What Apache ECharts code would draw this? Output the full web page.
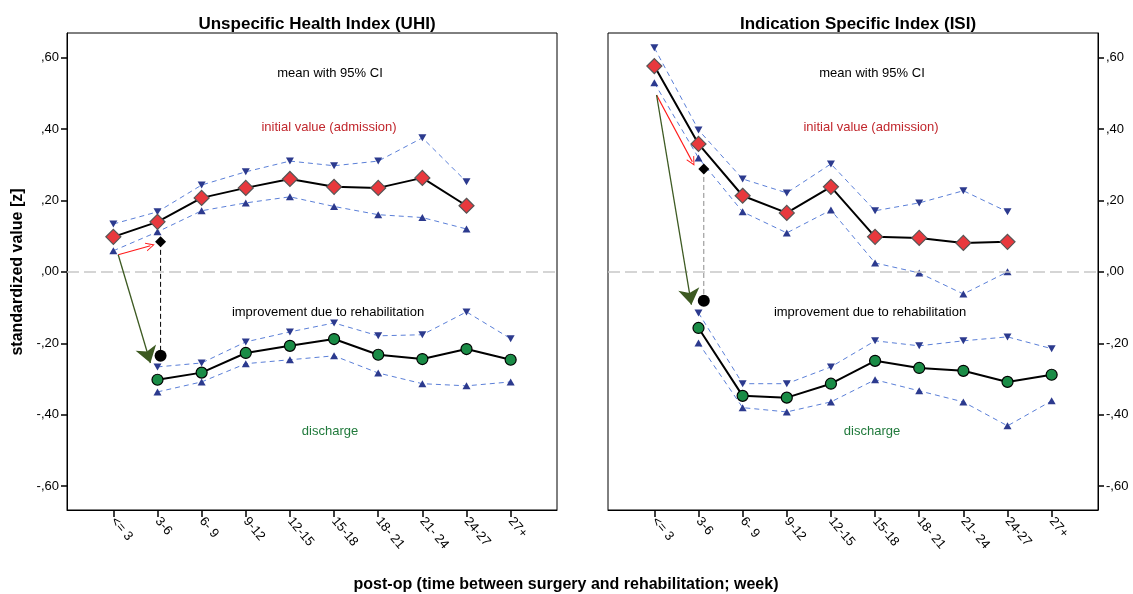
<!DOCTYPE html>
<html>
<head>
<meta charset="utf-8">
<script src="https://cdn.jsdelivr.net/npm/echarts@6/dist/echarts.min.js"></script>
<style>
  html, body { margin: 0; padding: 0; background: #fff; }
  #chart { width: 1133px; height: 594px; }
</style>
</head>
<body>
<div id="chart"></div>
<script>
// Time between surgery and rehabilitation (weeks)
const categories = ['<= 3', '3-6', '6- 9', '9-12', '12-15', '15-18', '18- 21', '21- 24', '24-27', '27+'];
const yTicks = [-0.6, -0.4, -0.2, 0, 0.2, 0.4, 0.6];

// Unspecific Health Index: admission mean and 95% CI
const uhiAdmMean  = [0.098, 0.140, 0.207, 0.235, 0.260, 0.238, 0.235, 0.263, 0.185, null];
const uhiAdmUpper = [0.134, 0.168, 0.243, 0.280, 0.310, 0.297, 0.310, 0.375, 0.252, null];
const uhiAdmLower = [0.059, 0.112, 0.171, 0.193, 0.210, 0.183, 0.160, 0.152, 0.120, null];
// Unspecific Health Index: discharge mean and 95% CI
const uhiDisMean  = [null, -0.302, -0.282, -0.227, -0.207, -0.188, -0.232, -0.244, -0.216, -0.246];
const uhiDisUpper = [null, -0.266, -0.255, -0.196, -0.168, -0.143, -0.179, -0.176, -0.112, -0.187];
const uhiDisLower = [null, -0.336, -0.308, -0.257, -0.246, -0.235, -0.283, -0.313, -0.319, -0.308];

// Indication Specific Index: admission mean and 95% CI
const isiAdmMean  = [0.576, 0.358, 0.213, 0.165, 0.238, 0.098, 0.095, 0.081, 0.084, null];
const isiAdmUpper = [0.627, 0.397, 0.260, 0.221, 0.302, 0.171, 0.193, 0.227, 0.168, null];
const isiAdmLower = [0.529, 0.319, 0.168, 0.109, 0.173, 0.025, -0.003, -0.062, 0.000, null];
// Indication Specific Index: discharge mean and 95% CI
const isiDisMean  = [null, -0.157, -0.347, -0.352, -0.313, -0.249, -0.269, -0.277, -0.308, -0.288];
const isiDisUpper = [null, -0.115, -0.313, -0.313, -0.266, -0.193, -0.207, -0.193, -0.182, -0.215];
const isiDisLower = [null, -0.199, -0.380, -0.392, -0.364, -0.302, -0.333, -0.364, -0.431, -0.361];

// Illustrative markers: [x position on the category scale, value]
const uhiShiftedAdm = [1.07, 0.084];
const uhiShiftedDis = [1.07, -0.235];
const uhiRedArrow   = [[0.11, 0.048], [0.84, 0.073]];
const uhiGreenArrow = [[0.11, 0.048], [0.84, -0.255]];

const isiShiftedAdm = [1.12, 0.288];
const isiShiftedDis = [1.13, -0.081];
const isiRedArrow   = [[0.05, 0.495], [0.86, 0.308]];
const isiGreenArrow = [[0.05, 0.495], [0.84, -0.092]];

const FONT = '"Liberation Sans", Arial, sans-serif';
const CI_LINE = '#5b7fd8';
const CI_MARK = '#2c3a8e';

function pairs(values) {
  const out = [];
  values.forEach((v, i) => { if (v !== null) out.push([i, v]); });
  return out;
}

function yLabel(v) {
  const r = Math.round(v * 100) / 100;
  if (r === 0) return ',00';
  const s = Math.abs(r).toFixed(2).replace(/^0\./, ',');
  return (r < 0 ? '-' : '') + s;
}

function ciSeries(idx, values, down) {
  return {
    type: 'line', xAxisIndex: idx, yAxisIndex: idx, z: 3,
    data: pairs(values),
    symbol: 'triangle', symbolSize: [8, 7], symbolRotate: down ? 180 : 0,
    itemStyle: { color: CI_MARK, opacity: 1 },
    lineStyle: { color: CI_LINE, width: 1, type: [5, 4] },
    silent: true, animation: false
  };
}

function meanSeries(idx, values, kind) {
  const isAdm = kind === 'adm';
  return {
    type: 'line', xAxisIndex: idx, yAxisIndex: idx, z: 5,
    data: pairs(values),
    symbol: isAdm ? 'diamond' : 'circle',
    symbolSize: isAdm ? 15 : 11,
    itemStyle: isAdm
      ? { color: '#e8383d', borderColor: '#555', borderWidth: 1.2, opacity: 1 }
      : { color: '#1a8c46', borderColor: '#000', borderWidth: 1.2, opacity: 1 },
    lineStyle: { color: '#000', width: 2 },
    silent: true, animation: false
  };
}

function panelSeries(idx, d) {
  return [
    // zero reference line
    {
      type: 'line', xAxisIndex: idx, yAxisIndex: idx, data: [], z: 1,
      markLine: {
        silent: true, symbol: 'none', label: { show: false }, animation: false,
        lineStyle: { color: '#c8c8c8', width: 1.5, type: [12, 5] },
        data: [{ yAxis: 0 }]
      }
    },
    ciSeries(idx, d.admUpper, true),
    ciSeries(idx, d.admLower, false),
    ciSeries(idx, d.disUpper, true),
    ciSeries(idx, d.disLower, false),
    meanSeries(idx, d.admMean, 'adm'),
    meanSeries(idx, d.disMean, 'dis'),
    // connector between shifted admission mean and discharge mean
    {
      type: 'line', xAxisIndex: idx, yAxisIndex: idx, z: 4,
      data: [d.shiftedAdm, [d.shiftedAdm[0], d.shiftedDis[1]]],
      symbol: 'none',
      lineStyle: { color: d.connectorColor, width: 1, type: [5, 3] },
      silent: true, animation: false
    },
    {
      type: 'scatter', xAxisIndex: idx, yAxisIndex: idx, z: 6,
      data: [d.shiftedAdm], symbol: 'diamond', symbolSize: 11,
      itemStyle: { color: '#000', opacity: 1 }, silent: true, animation: false
    },
    {
      type: 'scatter', xAxisIndex: idx, yAxisIndex: idx, z: 6,
      data: [[d.shiftedAdm[0], d.shiftedDis[1]]], symbol: 'circle', symbolSize: 12,
      itemStyle: { color: '#000', opacity: 1 }, silent: true, animation: false
    },
    // arrows
    {
      type: 'lines', coordinateSystem: 'cartesian2d', xAxisIndex: idx, yAxisIndex: idx, z: 6,
      symbol: ['none', 'path://M5,0 L10,10 L8.8,10 L5,2.4 L1.2,10 L0,10 Z'],
      symbolSize: [9, 9],
      lineStyle: { color: '#ff1a1a', width: 1.2, opacity: 1 },
      data: [{ coords: d.redArrow }], silent: true, animation: false
    },
    {
      type: 'lines', coordinateSystem: 'cartesian2d', xAxisIndex: idx, yAxisIndex: idx, z: 6,
      symbol: ['none', 'arrow'], symbolSize: [12, 16],
      lineStyle: { color: '#3d5a22', width: 1.3, opacity: 1 },
      data: [{ coords: d.greenArrow }], silent: true, animation: false
    }
  ];
}

const uhi = {
  admMean: uhiAdmMean, admUpper: uhiAdmUpper, admLower: uhiAdmLower,
  disMean: uhiDisMean, disUpper: uhiDisUpper, disLower: uhiDisLower,
  shiftedAdm: uhiShiftedAdm, shiftedDis: uhiShiftedDis,
  redArrow: uhiRedArrow, greenArrow: uhiGreenArrow, connectorColor: '#000'
};
const isi = {
  admMean: isiAdmMean, admUpper: isiAdmUpper, admLower: isiAdmLower,
  disMean: isiDisMean, disUpper: isiDisUpper, disLower: isiDisLower,
  shiftedAdm: isiShiftedAdm, shiftedDis: isiShiftedDis,
  redArrow: isiRedArrow, greenArrow: isiGreenArrow, connectorColor: '#8a8a8a'
};

function xAxis(idx) {
  return {
    type: 'value', gridIndex: idx, min: -1.05, max: 10.05, position: 'bottom',
    axisLine: { show: true, onZero: false, lineStyle: { color: '#000', width: 1 } },
    axisTick: { show: true, length: 7, lineStyle: { color: '#000', width: 1.5 },
                customValues: categories.map((c, i) => i) },
    axisLabel: {
      customValues: categories.map((c, i) => i),
      formatter: v => categories[Math.round(v)],
      rotate: -50, margin: 9, color: '#000', fontSize: 13, fontFamily: FONT
    },
    splitLine: { show: false }
  };
}

function yAxis(idx, pos) {
  return {
    type: 'value', gridIndex: idx, position: pos, min: -0.6665, max: 0.6685,
    axisLine: { show: true, onZero: false, lineStyle: { color: '#000', width: 1 } },
    axisTick: { show: true, length: 6, lineStyle: { color: '#000', width: 1.5 }, customValues: yTicks },
    axisLabel: { customValues: yTicks, formatter: yLabel, margin: 8,
                 color: '#000', fontSize: 13, fontFamily: FONT },
    splitLine: { show: false }
  };
}

function note(x, y, text, color) {
  return {
    type: 'text', x: x, y: y, silent: true,
    style: { text: text, fill: color, font: '13px ' + FONT, align: 'center', verticalAlign: 'middle' }
  };
}

const chart = echarts.init(document.getElementById('chart'), null, { renderer: 'canvas' });
chart.setOption({
  backgroundColor: '#fff',
  animation: false,
  title: [
    { text: 'Unspecific Health Index (UHI)', left: 312, top: 11, textAlign: 'center',
      textStyle: { fontSize: 17, fontWeight: 'bold', color: '#000', fontFamily: FONT } },
    { text: 'Indication Specific Index (ISI)', left: 853, top: 11, textAlign: 'center',
      textStyle: { fontSize: 17, fontWeight: 'bold', color: '#000', fontFamily: FONT } }
  ],
  grid: [
    { left: 67, right: 576, top: 33, bottom: 84, show: true, borderColor: '#000', borderWidth: 1 },
    { left: 608, right: 35, top: 33, bottom: 84, show: true, borderColor: '#000', borderWidth: 1 }
  ],
  xAxis: [xAxis(0), xAxis(1)],
  yAxis: [yAxis(0, 'left'), yAxis(1, 'right')],
  series: panelSeries(0, uhi).concat(panelSeries(1, isi)),
  graphic: [
    note(330, 73, 'mean with 95% CI', '#000'),
    note(329, 127, 'initial value (admission)', '#c1272d'),
    note(328, 312, 'improvement due to rehabilitation', '#000'),
    note(330, 431, 'discharge', '#217a3c'),
    note(872, 73, 'mean with 95% CI', '#000'),
    note(871, 127, 'initial value (admission)', '#c1272d'),
    note(870, 312, 'improvement due to rehabilitation', '#000'),
    note(872, 431, 'discharge', '#217a3c'),
    {
      type: 'text', x: 18, y: 272, rotation: Math.PI / 2, silent: true,
      style: { text: 'standardized value [z]', fill: '#000', font: 'bold 16px ' + FONT,
               align: 'center', verticalAlign: 'middle' }
    },
    {
      type: 'text', x: 566, y: 585, silent: true,
      style: { text: 'post-op (time between surgery and rehabilitation; week)', fill: '#000',
               font: 'bold 16px ' + FONT, align: 'center', verticalAlign: 'middle' }
    }
  ]
});
</script>
</body>
</html>
